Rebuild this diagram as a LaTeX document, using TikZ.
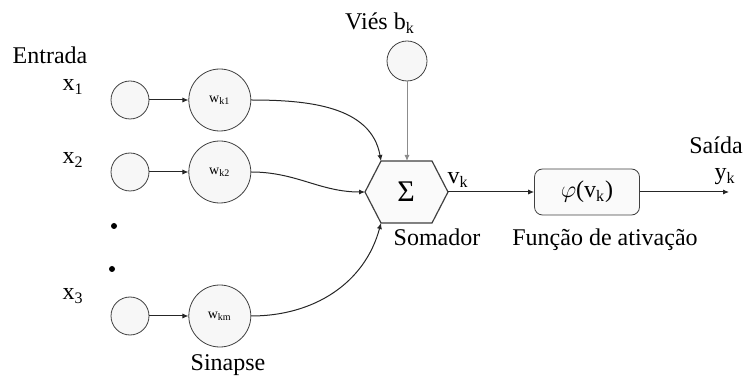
\documentclass[tikz,border=0pt]{standalone}
\usepackage{fontspec}
\setmainfont{Liberation Serif}
\usetikzlibrary{arrows.meta,positioning,calc}

\begin{document}
\begin{tikzpicture}[
  x=0.5pt,y=0.5pt,
  font=\fontsize{12}{14}\selectfont,
  node distance=19.5pt,
  inp/.style={draw=black!75,circle,fill=black!3,minimum size=19pt,inner sep=0pt},
  wgt/.style={draw=black!75,circle,fill=black!3,minimum size=31pt,inner sep=0pt,font=\fontsize{7}{8}\selectfont},
  actbox/.style={draw=black!75,rounded corners=4pt,fill=black!2,minimum width=52.5pt,minimum height=23pt,inner sep=0pt},
  dot/.style={circle,fill=black,minimum size=3pt,inner sep=0pt},
  lbl/.style={inner sep=0pt},
  arrow/.style={-{Latex[length=3pt,width=2.6pt]},line width=0.5pt,black!85}
]
\useasboundingbox (0,0) rectangle (749,380);
% entradas
\node[lbl] (entrada) at (50,325) {Entrada};
\node[inp] (x1) at (130,280) {};
\node[inp] (x2) at (130,208) {};
\node[inp] (x3) at (130,64) {};
\node[lbl] (lx1) at (73,293) {x\textsubscript{1}};
\node[lbl] (lx2) at (73,220) {x\textsubscript{2}};
\node[lbl] (lx3) at (73,84) {x\textsubscript{3}};
\node[dot] (d1) at (114,154) {};
\node[dot] (d2) at (112,111) {};
% sinapses
\node[wgt,right=of x1] (w1) {w\textsubscript{k1}};
\node[wgt,right=of x2] (w2) {w\textsubscript{k2}};
\node[wgt,right=of x3] (w3) {w\textsubscript{km}};
\node[lbl] (sinapse) at (228,15) {Sinapse};
% somador
\coordinate (sumC) at (406,188);
\coordinate (sumW) at ($(sumC)+(-41,0)$);
\coordinate (sumNW) at ($(sumC)+(-25,31)$);
\coordinate (sumN) at ($(sumC)+(1,31)$);
\coordinate (sumNE) at ($(sumC)+(26,31)$);
\coordinate (sumE) at ($(sumC)+(42,0)$);
\coordinate (sumSE) at ($(sumC)+(26,-31)$);
\coordinate (sumSW) at ($(sumC)+(-25,-31)$);
\draw[black!75,line width=0.6pt,fill=black!2] (sumW) -- (sumNW) -- (sumNE) -- (sumE) -- (sumSE) -- (sumSW) -- cycle;
\node (sum) at (sumC) {\fontsize{15}{15}\selectfont Σ};
\node[lbl] (vk) at (458,200) {v\textsubscript{k}};
\node[lbl] (somador) at (437,143) {Somador};
% vies
\node[inp,minimum size=20pt] (bias) at (407,319) {};
\node[lbl] (vies) at (380,357) {Viés b\textsubscript{k}};
% ativacao
\node[actbox] (act) at (587,188) {$\varphi$(v\textsubscript{k})};
\node[lbl] (funcao) at (605,140) {Função de ativação};
\coordinate (out) at (729,188);
\node[lbl] (saida) at (716,235) {Saída};
\node[lbl] (yk) at (725,203) {y\textsubscript{k}};

\draw[arrow] (x1) -- (w1);
\draw[arrow] (x2) -- (w2);
\draw[arrow] (x3) -- (w3);
\draw[arrow] (w1.east) to[out=0,in=100] (sumNW);
\draw[arrow] (w2.east) to[out=0,in=180] (sumW);
\draw[arrow] (w3.east) to[out=0,in=-105] (sumSW);
\draw[arrow,black!45] (bias) -- (sumN);
\draw[arrow] (sumE) -- (act);
\draw[arrow] (act) -- (out);
\end{tikzpicture}
\end{document}
